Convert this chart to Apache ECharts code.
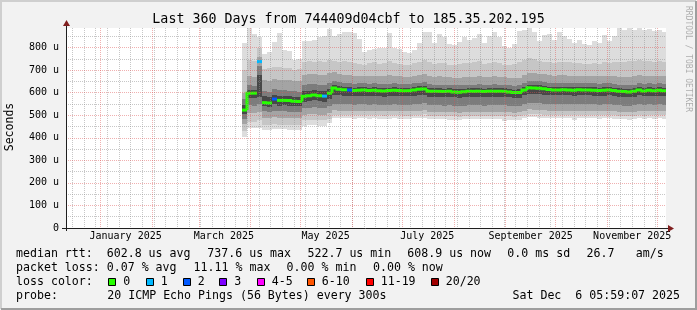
<!DOCTYPE html>
<html><head><meta charset="utf-8">
<script src="https://cdn.jsdelivr.net/npm/echarts@6/dist/echarts.min.js"></script>
<style>html,body{margin:0;padding:0;background:#f2f2f2;}#c{width:697px;height:310px;}</style>
</head><body><div id="c"></div>
<script>
// ---------------- data ----------------
const TITLE = 'Last 360 Days from 744409d04cbf to 185.35.202.195';
const Y_NAME = 'Seconds';
const WATERMARK = 'RRDTOOL / TOBI OETIKER';
const END_TIME = Date.UTC(2025, 11, 6, 5, 59, 7);
const SPAN_DAYS = 360;
const DATA_START = Date.UTC(2025, 2, 27);
const STEP_DAYS = 3;
const Y_MAX = 887;
const Y_TICKS = [0, 100, 200, 300, 400, 500, 600, 700, 800];
const Y_MINOR = [50, 150, 250, 350, 450, 550, 650, 750, 850];
const X_LABELS = ['January 2025', 'March 2025', 'May 2025', 'July 2025', 'September 2025', 'November 2025'];
const X_LABEL_MONTHS = [[2025, 0], [2025, 2], [2025, 4], [2025, 6], [2025, 8], [2025, 10]];

// median rtt per step (us)
const MED = [523,598,598,738,556,554,572,566,566,565,
 562,561,584,587,590,586,585,598,621,615,
 613,612,610,611,612,610,611,609,608,610,
 611,610,609,609,612,615,617,607,606,606,
 605,606,603,602,604,606,606,607,605,606,
 607,606,606,603,601,601,612,622,621,620,
 618,614,612,612,613,612,611,613,612,612,
 611,610,611,612,610,606,605,603,606,612,
 608,611,609,611,609];
// lost pings per step (of 20)
const LOSS = [0,0,0,1,0,0,2,0,0,0,
 0,0,0,0,0,0,1,0,0,0,
 0,2,0,0,0,0,0,0,0,0,
 0,0,0,0,0,0,0,0,0,0,
 0,0,0,0,0,0,0,0,0,0,
 0,0,0,0,0,0,0,0,0,0,
 0,0,0,0,0,0,0,0,0,0,
 0,0,0,0,0,0,0,0,0,0,
 0,0,0,0,0];
// sorted ping ranks (smoke)
const P_MAX = [822,885,860,845,770,782,823,866,791,785,
 747,750,828,830,835,845,850,884,850,860,
 870,871,865,836,782,790,795,798,800,865,
 800,795,782,778,790,820,871,868,822,860,
 845,815,810,825,845,835,842,860,820,850,
 870,845,805,800,815,875,880,886,870,830,
 855,860,835,870,850,840,822,835,815,812,
 830,820,855,830,850,885,878,886,880,887,
 878,882,875,880,870];
const P19 = [700,745,740,800,705,710,715,712,708,710,
 700,705,735,740,738,742,736,745,740,738,
 742,735,730,728,725,730,735,728,732,740,
 730,726,722,725,730,738,745,735,728,732,
 730,725,722,728,732,730,735,740,728,732,
 738,730,725,722,726,735,745,752,748,740,
 738,735,732,736,738,734,730,733,728,726,
 730,728,735,732,734,738,736,740,742,745,
 740,742,738,740,736];
const P17 = [600,672,668,760,655,652,660,658,656,655,
 650,652,680,682,685,680,678,688,690,684,
 680,678,675,676,674,675,676,672,672,678,
 675,672,670,671,674,680,684,674,670,672,
 670,669,666,665,668,670,671,673,669,670,
 672,670,668,666,664,666,678,688,686,684,
 682,678,676,677,678,676,674,676,675,674,
 674,673,675,676,674,671,670,669,672,678,
 674,676,674,676,675];
const P15 = [570,632,630,720,606,604,615,610,610,608,
 606,605,636,638,640,636,634,645,652,646,
 644,642,640,641,642,640,641,639,638,640,
 641,640,639,639,642,645,648,638,636,636,
 635,636,633,632,634,636,636,637,635,636,
 637,636,636,633,631,632,643,652,651,650,
 648,644,642,642,643,642,641,643,642,642,
 641,640,641,642,640,636,635,633,636,642,
 638,641,639,641,640];
const P13 = [545,614,613,680,584,582,592,586,587,585,
 583,582,606,608,611,607,606,618,634,628,
 626,625,623,624,625,623,624,622,621,623,
 624,623,622,622,625,628,630,620,619,619,
 618,619,616,615,617,619,619,620,618,619,
 620,619,619,616,614,615,625,634,633,632,
 630,627,625,625,626,625,624,626,625,625,
 624,623,624,625,623,619,618,616,619,625,
 621,624,622,624,623];
const P8 = [505,578,576,580,540,538,548,543,544,542,
 540,539,561,563,566,562,561,572,592,588,
 587,586,585,586,587,585,586,584,583,585,
 586,585,584,584,587,590,592,583,582,582,
 581,582,579,578,580,582,582,583,581,582,
 583,582,582,579,577,578,588,596,595,594,
 592,589,588,588,589,588,587,589,588,588,
 587,586,587,588,586,582,581,579,582,588,
 584,587,585,587,586];
const P6 = [485,545,542,550,517,515,520,518,518,516,
 515,514,532,534,536,533,532,540,552,550,
 549,548,547,548,549,547,548,546,545,547,
 548,547,546,546,548,551,553,545,544,544,
 543,544,541,540,542,544,544,545,543,544,
 545,544,544,541,540,541,549,556,555,554,
 552,550,549,549,550,549,548,550,549,549,
 548,547,548,549,547,544,543,541,544,549,
 546,548,547,548,547];
const P4 = [460,510,508,515,489,488,492,490,490,488,
 487,486,502,504,505,503,502,508,522,520,
 520,519,518,519,520,518,519,518,517,518,
 519,518,517,517,519,521,523,516,515,515,
 514,515,513,512,514,515,515,516,514,515,
 516,515,515,513,512,513,520,526,525,524,
 523,521,520,520,521,520,519,521,520,520,
 519,518,519,520,518,515,514,513,515,520,
 517,519,518,519,518];
const P2 = [430,470,468,480,458,457,460,459,459,458,
 456,456,477,478,480,478,477,485,502,501,
 500,500,499,500,501,499,500,499,498,499,
 500,499,498,498,500,502,504,498,497,497,
 496,497,495,494,496,497,497,498,496,497,
 498,497,497,495,494,495,501,506,505,504,
 503,502,501,501,502,501,500,502,501,501,
 500,499,500,501,499,497,496,495,497,501,
 498,500,499,500,499];
const P_MIN = [405,442,444,445,436,435,440,438,437,436,
 435,436,453,455,456,452,452,465,490,488,
 487,486,485,486,487,485,486,485,484,485,
 486,485,484,484,486,488,490,484,483,483,
 482,478,481,480,482,483,483,484,482,483,
 484,483,476,481,480,481,487,492,491,490,
 489,488,487,487,488,487,478,488,487,487,
 486,485,486,487,485,483,482,481,483,487,
 484,486,485,486,485];

const LOSS_CLASSES = [
  {label: '0', max: 0, color: '#26ff00'},
  {label: '1', max: 1, color: '#00b8ff'},
  {label: '2', max: 2, color: '#0059ff'},
  {label: '3', max: 3, color: '#7e00ff'},
  {label: '4-5', max: 5, color: '#ff00ff'},
  {label: '6-10', max: 10, color: '#ff5500'},
  {label: '11-19', max: 19, color: '#ff0000'},
  {label: '20/20', max: 20, color: '#a10000'}
];

const LEGEND_ROWS = [
  {y: 253.5, items: [[16, 'median rtt:  602.8 us avg'], [207.3, '737.6 us max'], [307.5, '522.7 us min'], [407.3, '608.9 us now'], [507.3, '0.0 ms sd'], [586.6, '26.7'], [635.7, 'am/s']]},
  {y: 268.3, items: [[16, 'packet loss: 0.07 % avg'], [193.6, '11.11 % max'], [286.6, '0.00 % min'], [373, '0.00 % now']]},
  {y: 282, items: [[16, 'loss color:']]},
  {y: 296.3, items: [[16, 'probe:'], [107.3, '20 ICMP Echo Pings (56 Bytes) every 300s']]}
];
const DATE_TEXT = 'Sat Dec  6 05:59:07 2025';
const LOSS_BOX_X = [108.3, 145.7, 182.7, 219.3, 256.7, 306.7, 365.7, 430.7];

// ---------------- build ----------------
const DAY = 86400000;
const X_MIN = END_TIME - SPAN_DAYS * DAY;
const X_MAX = END_TIME;
const MONO = '"DejaVu Sans Mono", monospace';

const monthStarts = [];
for (let y = 2024, m = 11; ; ) {
  const t = Date.UTC(y, m, 1);
  if (t > X_MAX) break;
  if (t >= X_MIN) monthStarts.push(t);
  m++; if (m > 11) { m = 0; y++; }
}
const weekStarts = [];
{
  let t = Date.UTC(2024, 11, 15); // Sunday
  while (t - 7 * DAY >= X_MIN) t -= 7 * DAY;
  for (; t <= X_MAX; t += 7 * DAY) weekStarts.push(t);
}
const labelTimes = X_LABEL_MONTHS.map(([y, m]) => Date.UTC(y, m, 1) + 15 * DAY);
const labelMap = {};
labelTimes.forEach((t, i) => labelMap[t] = X_LABELS[i]);

const tStart = MED.map((_, i) => DATA_START + i * STEP_DAYS * DAY);
const tEnd = tStart.map(t => Math.min(t + STEP_DAYS * DAY, X_MAX));

function bandSeries(lo, hi, color) {
  return {
    type: 'custom', silent: true, z: 2,
    xAxisIndex: 0, yAxisIndex: 0,
    encode: {x: [0, 1], y: [2, 3]},
    data: lo.map((v, i) => [tStart[i], tEnd[i], v, hi[i]]),
    renderItem: function (params, api) {
      const a = api.coord([api.value(0), api.value(3)]);
      const b = api.coord([api.value(1), api.value(2)]);
      const x0 = Math.round(a[0]), x1 = Math.round(b[0]);
      const y0 = Math.round(a[1]), y1 = Math.round(b[1]);
      return {type: 'rect', shape: {x: x0, y: y0, width: x1 - x0, height: y1 - y0}, style: {fill: color}};
    }
  };
}
function lossClass(n) {
  for (let k = 0; k < LOSS_CLASSES.length; k++) if (n <= LOSS_CLASSES[k].max) return k;
  return LOSS_CLASSES.length - 1;
}

const series = [
  bandSeries(P_MIN, P_MAX, '#dddddd'),
  bandSeries(P2, P19, '#c6c6c6'),
  bandSeries(P4, P17, '#a4a4a4'),
  bandSeries(P6, P15, '#7c7c7c'),
  bandSeries(P8, P13, '#484848'),
  {
    type: 'custom', silent: true, z: 3,
    xAxisIndex: 0, yAxisIndex: 0,
    encode: {x: [0, 1], y: 2},
    data: MED.map((v, i) => [tStart[i], tEnd[i], v, LOSS[i]]),
    renderItem: function (params, api) {
      const i = params.dataIndex;
      const a = api.coord([api.value(0), api.value(2)]);
      const b = api.coord([api.value(1), api.value(2)]);
      const cls = lossClass(api.value(3));
      const pts = [];
      if (i > 0 && lossClass(LOSS[i - 1]) === cls) {
        const p = api.coord([api.value(0), MED[i - 1]]);
        pts.push([Math.round(a[0]), p[1]]);
      }
      pts.push([Math.round(a[0]), a[1]], [Math.round(b[0]), b[1]]);
      return {type: 'polyline', shape: {points: pts}, style: {stroke: LOSS_CLASSES[cls].color, lineWidth: 3, fill: null}};
    }
  }
];

const graphics = [];
// frame shading
graphics.push({type: 'polyline', shape: {points: [[1, 309], [1, 1], [696, 1]]}, style: {stroke: '#cfcfcf', lineWidth: 2, fill: null}, silent: true});
graphics.push({type: 'polyline', shape: {points: [[696, 1], [696, 309], [1, 309]]}, style: {stroke: '#9e9e9e', lineWidth: 2, fill: null}, silent: true});
// axes with arrows
graphics.push({type: 'line', z: 20, shape: {x1: 62, y1: 228.5, x2: 669, y2: 228.5}, style: {stroke: '#1f1f1f', lineWidth: 1}, silent: true});
graphics.push({type: 'polygon', z: 20, shape: {points: [[668, 225], [674, 228.5], [668, 232]]}, style: {fill: '#801f1f'}, silent: true});
graphics.push({type: 'line', z: 20, shape: {x1: 66.5, y1: 231, x2: 66.5, y2: 25}, style: {stroke: '#1f1f1f', lineWidth: 1}, silent: true});
graphics.push({type: 'polygon', z: 20, shape: {points: [[63, 26], [66.5, 20], [70, 26]]}, style: {fill: '#801f1f'}, silent: true});
// title
graphics.push({type: 'text', x: 348.5, y: 19.5, style: {text: TITLE, font: '13.3px ' + MONO, fill: '#000', align: 'center', verticalAlign: 'middle'}, silent: true});
// y name
graphics.push({type: 'text', x: 10.5, y: 127, rotation: Math.PI / 2, style: {text: Y_NAME, font: '11.5px ' + MONO, fill: '#000', align: 'center', verticalAlign: 'middle'}, silent: true});
// watermark
graphics.push({type: 'text', x: 688, y: 59, rotation: -Math.PI / 2, style: {text: WATERMARK, font: '8px ' + MONO, fill: 'rgba(0,0,0,0.3)', align: 'center', verticalAlign: 'middle'}, silent: true});
// legend rows
LEGEND_ROWS.forEach(row => row.items.forEach(([x, txt]) => {
  graphics.push({type: 'text', x: x, y: row.y, style: {text: txt, font: '11.6px ' + MONO, fill: '#000', align: 'left', verticalAlign: 'middle'}, silent: true});
}));
graphics.push({type: 'text', x: 680, y: 296.3, style: {text: DATE_TEXT, font: '11.6px ' + MONO, fill: '#000', align: 'right', verticalAlign: 'middle'}, silent: true});
LOSS_CLASSES.forEach((c, i) => {
  const bx = LOSS_BOX_X[i];
  graphics.push({type: 'rect', shape: {x: Math.round(bx) + 0.5, y: 278.5, width: 7, height: 7}, style: {fill: c.color, stroke: '#000', lineWidth: 1}, silent: true});
  graphics.push({type: 'text', x: bx + 15, y: 282, style: {text: c.label, font: '11.6px ' + MONO, fill: '#000', align: 'left', verticalAlign: 'middle'}, silent: true});
});

const majorLine = {show: true, lineStyle: {color: 'rgba(222,79,79,0.45)', width: 1, type: [1, 1]}};
const minorLine = {show: true, lineStyle: {color: 'rgba(143,143,143,0.5)', width: 1, type: [1, 1]}};

const option = {
  backgroundColor: '#f2f2f2',
  animation: false,
  grid: {left: 66, top: 28, width: 600, height: 200, show: true, backgroundColor: '#ffffff', borderWidth: 0},
  xAxis: [
    {
      type: 'value', min: X_MIN, max: X_MAX, position: 'bottom', z: 5,
      axisLine: {show: false},
      axisTick: {show: false, customValues: monthStarts},
      splitLine: majorLine,
      axisLabel: {
        customValues: labelTimes, margin: 3, color: '#000', fontFamily: MONO, fontSize: 10,
        formatter: v => labelMap[v] || ''
      }
    },
    {
      type: 'value', min: X_MIN, max: X_MAX, position: 'top', z: 4,
      axisLine: {show: false},
      axisTick: {show: false, customValues: weekStarts},
      splitLine: minorLine,
      axisLabel: {show: false}
    }
  ],
  yAxis: [
    {
      type: 'value', min: 0, max: Y_MAX, position: 'left', z: 5,
      axisLine: {show: false},
      axisTick: {show: false, customValues: Y_TICKS},
      splitLine: majorLine,
      axisLabel: {
        customValues: Y_TICKS, margin: 7, color: '#000', fontFamily: MONO, fontSize: 10,
        formatter: v => v === 0 ? '0' : v + ' u'
      }
    },
    {
      type: 'value', min: 0, max: Y_MAX, position: 'right', z: 4,
      axisLine: {show: false},
      axisTick: {show: false, customValues: Y_MINOR},
      splitLine: minorLine,
      axisLabel: {show: false}
    }
  ],
  series: series,
  graphic: graphics
};

const chart = echarts.init(document.getElementById('c'), null, {renderer: 'canvas'});
chart.setOption(option);
</script>
</body></html>
